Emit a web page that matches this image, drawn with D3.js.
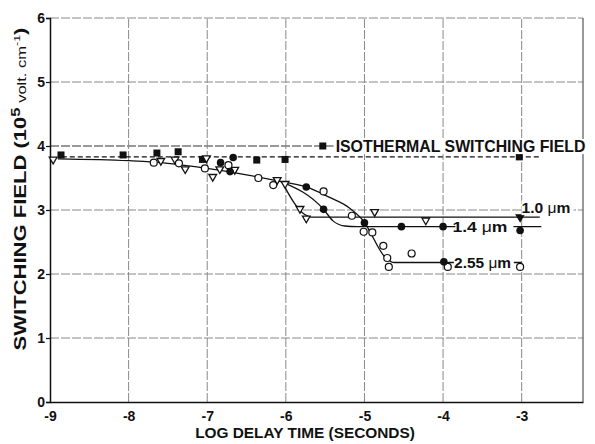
<!DOCTYPE html>
<html>
<head>
<meta charset="utf-8">
<script src="https://cdn.jsdelivr.net/npm/d3@7"></script>
<style>
body { margin: 0; background: #fff; }
text { font-family: "Liberation Sans", Arial, Helvetica, sans-serif; font-weight: bold; fill: #111; }
</style>
</head>
<body>
<svg id="chart" width="595" height="444"></svg>
<script>
// tick values
var xTicks = [-9, -8, -7, -6, -5, -4, -3];
var yTicks = [0, 1, 2, 3, 4, 5, 6];

// isothermal switching field (filled squares)
var isoX = [-8.86, -8.07, -7.64, -7.37, -7.06, -6.37, -6.01, -3.03];
var isoY = [3.86, 3.86, 3.89, 3.91, 3.79, 3.78, 3.79, 3.83];
var isoLevel = 3.83;

// 1.0 um (open triangles)
var tri = [[-8.96, 3.79], [-7.59, 3.77], [-7.41, 3.79], [-7.28, 3.64], [-7.01, 3.81], [-6.93, 3.52],
	[-6.84, 3.64], [-6.65, 3.63], [-6.11, 3.47], [-6.01, 3.41], [-5.82, 3.02], [-5.74, 2.87],
	[-4.87, 2.97], [-4.22, 2.84], [-3.02, 2.89]];

// 1.4 um (filled circles)
var dots = [[-6.83, 3.74], [-6.71, 3.60], [-6.67, 3.82], [-5.74, 3.36], [-5.52, 3.01], [-5.0, 2.80],
	[-4.53, 2.74], [-4.0, 2.74], [-3.99, 2.19], [-3.02, 2.68]];

// 2.55 um (open circles)
var rings = [[-7.68, 3.74], [-7.36, 3.73], [-7.03, 3.65], [-6.73, 3.70], [-6.35, 3.50], [-6.16, 3.39],
	[-5.52, 3.29], [-5.16, 2.91], [-5.01, 2.66], [-4.90, 2.65], [-4.76, 2.44], [-4.71, 2.25],
	[-4.69, 2.11], [-4.40, 2.32], [-3.94, 2.11], [-3.02, 2.11]];

// hand drawn fit curves
var common = [[-8.9, 3.80], [-8, 3.77], [-7.5, 3.73], [-7, 3.65], [-6.5, 3.55], [-6.05, 3.44]];
var curve255 = [[-6.05, 3.44], [-5.74, 3.36], [-5.45, 3.2], [-5.2, 3.04], [-5.02, 2.84], [-4.72, 2.24], [-4.62, 2.18], [-3.0, 2.18]];
var curve14 = [[-6.05, 3.44], [-5.52, 3.01], [-5.4, 2.83], [-5.25, 2.75], [-5.1, 2.74], [-2.75, 2.74]];
var curve10 = [[-6.05, 3.44], [-5.76, 2.93], [-5.68, 2.89], [-2.77, 2.89]];

var svg = d3.select("#chart");

var x = d3.scaleLinear().domain([-9, -2.22]).range([50, 583]);
var y = d3.scaleLinear().domain([0, 6]).range([402, 18]);

// grid
var grid = svg.append("g")
	.attr("stroke", "#888")
	.attr("stroke-width", 1)
	.attr("stroke-dasharray", "9 2");

grid.selectAll(".hgrid")
	.data(yTicks.slice(1))
	.enter()
	.append("line")
	.attr("x1", x(-9))
	.attr("x2", x.range()[1])
	.attr("y1", function(d) { return y(d); })
	.attr("y2", function(d) { return y(d); })
	// the 4 line is drawn darker in the scan
	.attr("stroke", function(d) { return d == 4 ? "#333" : null; });

grid.selectAll(".vgrid")
	.data(xTicks.slice(1))
	.enter()
	.append("line")
	.attr("x1", function(d) { return x(d); })
	.attr("x2", function(d) { return x(d); })
	.attr("y1", y(0))
	.attr("y2", y(6));

// right border
svg.append("line")
	.attr("x1", x.range()[1]).attr("x2", x.range()[1])
	.attr("y1", y(6)).attr("y2", y(0))
	.attr("stroke", "#555").attr("stroke-width", 1.2);

// axes
var xAxis = svg.append("g")
	.attr("transform", "translate(0," + y(0) + ")")
	.call(d3.axisBottom(x).tickValues(xTicks).tickSize(0).tickPadding(9)
		.tickFormat(function(d) { return String(d); }));

var yAxis = svg.append("g")
	.attr("transform", "translate(" + x(-9) + ",0)")
	.call(d3.axisLeft(y).tickValues(yTicks).tickSize(4).tickPadding(1)
		.tickFormat(function(d) { return String(d); }));

svg.selectAll(".domain").attr("stroke", "#111").attr("stroke-width", 1.5);
svg.selectAll(".tick line").attr("stroke", "#111").attr("stroke-width", 1.2);
[xAxis, yAxis].forEach(function(a) {
	a.attr("font-family", null).attr("font-size", null);
	a.selectAll("text").style("font-size", "14px").attr("fill", "#111");
});

// axis titles
var xTitle = svg.append("text")
	.attr("x", 305)
	.attr("y", 438)
	.attr("text-anchor", "middle")
	.style("font-size", "14px")
	.text("LOG DELAY TIME (SECONDS)");
fitWidth(xTitle, 220);

var yTitleG = svg.append("g")
	.attr("transform", "translate(26,189) rotate(-90)");
var yTitle = yTitleG.append("text")
	.attr("text-anchor", "middle")
	.style("font-size", "16px");
yTitle.append("tspan").text("SWITCHING FIELD (10");
yTitle.append("tspan").attr("dy", -6).style("font-size", "12px").text("5");
yTitle.append("tspan").attr("dy", 6).style("font-size", "12px").style("font-weight", "normal").text(" volt. cm");
yTitle.append("tspan").attr("dy", -6).style("font-size", "9px").style("font-weight", "normal").text("-1");
yTitle.append("tspan").attr("dy", 6).text(")");
fitWidth(yTitle, 323);

// stretch a text horizontally so it covers the width seen in the scan
function fitWidth(sel, target) {
	var box = sel.node().getBBox();
	var k = target / box.width;
	var cx = box.x + box.width / 2;
	var old = sel.attr("transform") || "";
	sel.attr("transform", old + " translate(" + cx + ",0) scale(" + k + ",1) translate(" + (-cx) + ",0)");
}

// fit curves
var line = d3.line()
	.x(function(d) { return x(d[0]); })
	.y(function(d) { return y(d[1]); })
	.curve(d3.curveMonotoneX);

svg.selectAll(".fit")
	.data([common, curve255, curve14, curve10])
	.enter()
	.append("path")
	.attr("class", "fit")
	.attr("d", line)
	.attr("fill", "none")
	.attr("stroke", "#111")
	.attr("stroke-width", 1.3);

// isothermal dashed line
svg.append("line")
	.attr("x1", x(-8.85)).attr("x2", x(-2.75))
	.attr("y1", y(isoLevel)).attr("y2", y(isoLevel))
	.attr("stroke", "#111")
	.attr("stroke-width", 1.4)
	.attr("stroke-dasharray", "5 3");

// markers
svg.selectAll(".iso")
	.data(isoX)
	.enter()
	.append("rect")
	.attr("x", function(d) { return x(d) - 3.5; })
	.attr("y", function(d, i) { return y(isoY[i]) - 3.5; })
	.attr("width", 7)
	.attr("height", 7)
	.attr("fill", "#111");

var triangle = d3.symbol().type(d3.symbolTriangle).size(26);
svg.selectAll(".tri")
	.data(tri)
	.enter()
	.append("path")
	.attr("d", triangle)
	.attr("transform", function(d) { return "translate(" + x(d[0]) + "," + y(d[1]) + ") rotate(180)"; })
	.attr("fill", function(d, i) { return i == tri.length - 1 ? "#111" : "#fff"; })
	.attr("stroke", "#111")
	.attr("stroke-width", 1.3);

svg.selectAll(".ring")
	.data(rings)
	.enter()
	.append("circle")
	.attr("cx", function(d) { return x(d[0]); })
	.attr("cy", function(d) { return y(d[1]); })
	.attr("r", 3.5)
	.attr("fill", "#fff")
	.attr("stroke", "#111")
	.attr("stroke-width", 1.2);

svg.selectAll(".dot")
	.data(dots)
	.enter()
	.append("circle")
	.attr("cx", function(d) { return x(d[0]); })
	.attr("cy", function(d) { return y(d[1]); })
	.attr("r", 3.8)
	.attr("fill", "#111");

// labels with a white patch behind, like the lines stop at the lettering
function label(xv, yv, parts, size, width) {
	var g = svg.append("g");
	var bg = g.append("rect").attr("fill", "#fff");
	var t = g.append("text")
		.attr("x", x(xv))
		.attr("y", y(yv))
		.style("font-size", size + "px");
	parts.forEach(function(p) {
		var s = t.append("tspan").text(p[0]);
		if (p[1]) s.style("font-weight", "normal");
	});
	if (width) fitWidth(t, width);
	var b = t.node().getBBox();
	var k = width ? width / b.width : 1;
	bg.attr("x", x(xv) - 1)
		.attr("y", b.y + 1)
		.attr("width", b.width * k + 3)
		.attr("height", b.height - 2);
	return g;
}

label(-5.38, 3.905, [["ISOTHERMAL SWITCHING FIELD"]], 16, 250);
label(-2.99, 2.95, [["1.0 "], ["\u03bc", true], ["m"]], 15, 49);
label(-3.83, 2.66, [["1.4 "], ["\u03bc", true], ["m"]], 15, 55);
label(-3.85, 2.09, [["2.55 "], ["\u03bc", true], ["m"]], 15, 57);

// legend square
svg.append("rect")
	.attr("x", x(-5.53) - 3.5)
	.attr("y", y(4) - 3.5)
	.attr("width", 7)
	.attr("height", 7)
	.attr("fill", "#111");
</script>
</body>
</html>
